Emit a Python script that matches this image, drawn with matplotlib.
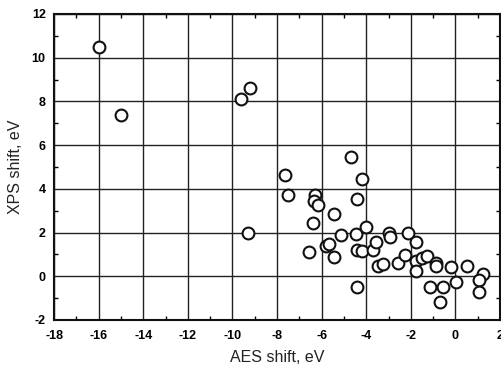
import matplotlib
matplotlib.use("Agg")
import matplotlib.pyplot as plt
from matplotlib.ticker import MultipleLocator

plt.rcParams['font.family'] = ['Liberation Sans', 'DejaVu Sans']
plt.rcParams['axes.unicode_minus'] = False

aes_shift = [-16.0, -15.0, -9.6, -9.2, -9.3, -7.65, -7.5, -6.3, -6.35, -6.17,
             -6.4, -6.55, -5.8, -5.65, -5.45, -5.45, -5.15, -4.7, -4.2, -4.42,
             -4.45, -4.0, -4.42, -4.2, -4.42, -3.68, -3.55, -3.45, -3.25, -3.0,
             -2.92, -2.58, -2.25, -2.12, -1.75, -1.75, -1.75, -1.5, -1.27, -0.85,
             -0.85, -0.18, 0.5, 1.25, 1.05, 1.05, 0.02, -1.16, -0.55, -0.67]
xps_shift = [10.5, 7.4, 8.1, 8.6, 2.0, 4.65, 3.7, 3.7, 3.45, 3.25,
             2.45, 1.1, 1.4, 1.5, 2.85, 0.88, 1.9, 5.45, 4.43, 3.53,
             1.95, 2.25, 1.2, 1.15, -0.48, 1.2, 1.55, 0.45, 0.58, 2.0,
             1.8, 0.6, 0.97, 2.0, 1.55, 0.72, 0.25, 0.85, 0.92, 0.62,
             0.45, 0.42, 0.45, 0.1, -0.15, -0.7, -0.28, -0.5, -0.5, -1.18]

x_ticks = [-18, -16, -14, -12, -10, -8, -6, -4, -2, 0, 2]
y_ticks = [-2, 0, 2, 4, 6, 8, 10, 12]

fig = plt.figure(figsize=(5.02, 3.69), dpi=100)
ax = fig.add_axes([54/502, (369-320)/369, 446/502, 306/369])

ax.set_xlim(-18, 2)
ax.set_ylim(-2, 12)
ax.set_xticks(x_ticks)
ax.set_yticks(y_ticks)
ax.xaxis.set_minor_locator(MultipleLocator(1))
ax.yaxis.set_minor_locator(MultipleLocator(1))
ax.grid(True, which='major', color='#222222', linewidth=1.0)
ax.set_axisbelow(True)

ax.plot(aes_shift, xps_shift, linestyle='none', marker='o', markersize=8.5,
        markerfacecolor='white', markeredgecolor='#111111', markeredgewidth=1.5,
        zorder=3, clip_on=False)

for s in ax.spines.values():
    s.set_linewidth(1.5)
    s.set_color('#111111')

ax.tick_params(which='major', direction='in', length=0, labelsize=9, pad=7,
               top=False, right=False)
ax.tick_params(which='major', axis='y', pad=6)
ax.tick_params(which='minor', direction='in', length=3, width=1,
               top=True, right=True, bottom=True, left=True)
for lab in ax.get_xticklabels() + ax.get_yticklabels():
    lab.set_fontweight('bold')

ax.set_xlabel('AES shift, eV', fontsize=11.5, labelpad=6, color='#222222')
ax.set_ylabel('XPS shift, eV', fontsize=11.5, labelpad=6, color='#222222')

fig.savefig('out.png', dpi=100)
